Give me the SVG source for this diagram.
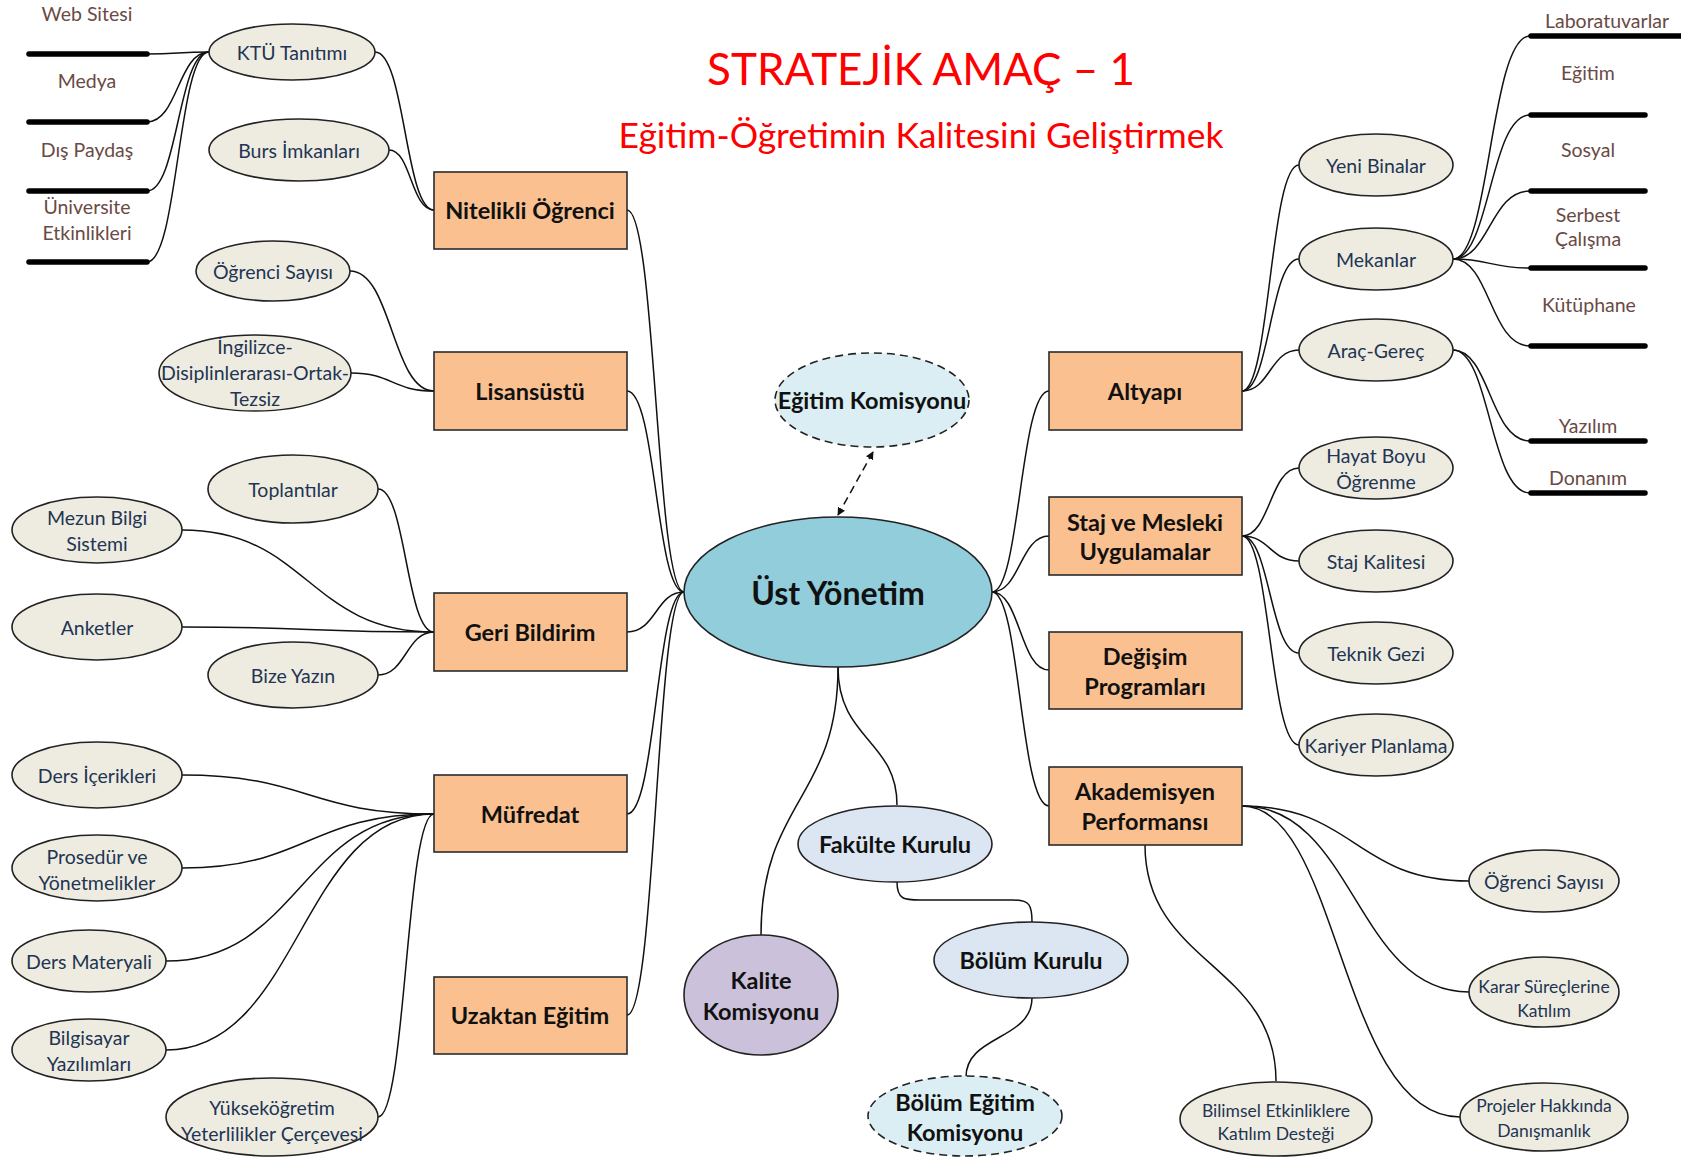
<svg xmlns="http://www.w3.org/2000/svg" width="1681" height="1157" viewBox="0 0 1681 1157">
<style>
text{font-family:Lato,"Liberation Sans",sans-serif;text-anchor:middle;dominant-baseline:central}
.box{fill:#FAC090;stroke:#2b2b2b;stroke-width:1.6}
.bt{font-size:23.5px;font-weight:bold;fill:#111}
.sub{fill:#EEECE1;stroke:#222;stroke-width:1.6}
.st{font-size:19.5px;fill:#1F3553}
.sts{font-size:17.5px;fill:#1F3553}
.bar{stroke:#000;stroke-width:5.5;stroke-linecap:round}
.bl{font-size:19.5px;fill:#6A4A45}
.cm{font-size:23.5px;font-weight:bold;fill:#111}
.dash{stroke-dasharray:8,5}
#connectors path{fill:none;stroke:#111;stroke-width:1.5}
</style>
<defs>
<marker id="ah" viewBox="0 0 10 10" refX="9" refY="5" markerWidth="8" markerHeight="8" orient="auto-start-reverse" markerUnits="userSpaceOnUse"><path d="M0,0 L10,5 L0,10 z" fill="#111"/></marker>
</defs>
<rect width="1681" height="1157" fill="#fff"/>

<g id="title">
<text x="921" y="68" style="font-size:44px;fill:#FF0000">STRATEJİK AMAÇ – 1</text>
<text x="921" y="134" style="font-size:35.5px;fill:#FF0000">Eğitim-Öğretimin Kalitesini Geliştirmek</text>
</g>

<g id="connectors">
<path d="M627,210 C656,210 656,592 684,592"/>
<path d="M627,391 C656,391 656,592 684,592"/>
<path d="M627,632 C656,632 656,592 684,592"/>
<path d="M627,814 C656,814 656,592 684,592"/>
<path d="M627,1015 C656,1015 656,592 684,592"/>
<path d="M992,592 C1020,592 1020,391 1049,391"/>
<path d="M992,592 C1020,592 1020,536 1049,536"/>
<path d="M992,592 C1020,592 1020,670 1049,670"/>
<path d="M992,592 C1020,592 1020,806 1049,806"/>
<path d="M375,52 C405,52 405,210 434,210"/>
<path d="M389,150 C411,150 411,210 434,210"/>
<path d="M209,52 C178,52 178,54 147,54"/>
<path d="M209,52 C178,52 178,122 147,122"/>
<path d="M209,52 C178,52 178,191 147,191"/>
<path d="M209,52 C178,52 178,262 147,262"/>
<path d="M350,271 C392,271 392,391 434,391"/>
<path d="M351,373 C392,373 392,391 434,391"/>
<path d="M378,489 C406,489 406,632 434,632"/>
<path d="M182,530 C308,530 308,632 434,632"/>
<path d="M182,627 C308,627 308,632 434,632"/>
<path d="M378,675 C406,675 406,632 434,632"/>
<path d="M182,775 C308,775 308,814 434,814"/>
<path d="M182,868 C308,868 308,814 434,814"/>
<path d="M166,961 C300,961 300,814 434,814"/>
<path d="M166,1050 C300,1050 300,814 434,814"/>
<path d="M378,1117 C406,1117 406,814 434,814"/>
<path d="M1242,391 C1270,391 1270,165 1299,165"/>
<path d="M1242,391 C1270,391 1270,259 1299,259"/>
<path d="M1242,391 C1270,391 1270,350 1299,350"/>
<path d="M1453,259 C1490,259 1490,36 1530,36"/>
<path d="M1453,259 C1490,259 1490,115 1530,115"/>
<path d="M1453,259 C1490,259 1490,191 1530,191"/>
<path d="M1453,259 C1490,259 1490,268 1530,268"/>
<path d="M1453,259 C1490,259 1490,346 1530,346"/>
<path d="M1453,350 C1490,350 1490,441 1530,441"/>
<path d="M1453,350 C1490,350 1490,493 1530,493"/>
<path d="M1242,536 C1270,536 1270,468 1299,468"/>
<path d="M1242,536 C1270,536 1270,561 1299,561"/>
<path d="M1242,536 C1270,536 1270,653 1299,653"/>
<path d="M1242,536 C1270,536 1270,745 1299,745"/>
<path d="M1242,806 C1355,806 1355,881 1469,881"/>
<path d="M1242,806 C1355,806 1355,992 1469,992"/>
<path d="M1242,806 C1340,806 1340,1117 1460,1117"/>
<path d="M1145,845 C1145,964 1276,964 1276,1081"/>
<path d="M838,667 C838,800 761,800 761,935"/>
<path d="M838,667 C838,740 897,740 897,805"/>
<path d="M897,882 C897,900 905,900 920,900 L1012,900 C1030,900 1032,905 1032,922"/>
<path d="M1032,998 C1032,1040 966,1035 966,1077"/>
<path d="M873,452 L838,515" class="dash" marker-start="url(#ah)" marker-end="url(#ah)"/>
</g>

<g id="bars">
<line class="bar" x1="29" y1="54" x2="147" y2="54"/>
<line class="bar" x1="29" y1="122" x2="147" y2="122"/>
<line class="bar" x1="29" y1="191" x2="147" y2="191"/>
<line class="bar" x1="29" y1="262" x2="147" y2="262"/>
<text class="bl" x="87" y="13">Web Sitesi</text>
<text class="bl" x="87" y="80">Medya</text>
<text class="bl" x="87" y="149">Dış Paydaş</text>
<text class="bl" x="87" y="206">Üniversite</text>
<text class="bl" x="87" y="232">Etkinlikleri</text>
<line class="bar" x1="1531" y1="36" x2="1684" y2="36"/>
<line class="bar" x1="1531" y1="115" x2="1645" y2="115"/>
<line class="bar" x1="1531" y1="191" x2="1645" y2="191"/>
<line class="bar" x1="1531" y1="268" x2="1645" y2="268"/>
<line class="bar" x1="1531" y1="346" x2="1645" y2="346"/>
<line class="bar" x1="1531" y1="441" x2="1645" y2="441"/>
<line class="bar" x1="1531" y1="493" x2="1645" y2="493"/>
<text class="bl" x="1607" y="20">Laboratuvarlar</text>
<text class="bl" x="1588" y="72">Eğitim</text>
<text class="bl" x="1588" y="149">Sosyal</text>
<text class="bl" x="1588" y="214">Serbest</text>
<text class="bl" x="1588" y="238">Çalışma</text>
<text class="bl" x="1589" y="304">Kütüphane</text>
<text class="bl" x="1588" y="425">Yazılım</text>
<text class="bl" x="1588" y="477">Donanım</text>
</g>

<g id="ust-yonetim"><ellipse cx="838" cy="592" rx="154" ry="75" fill="#92CDDC" stroke="#222" stroke-width="1.6"/><text x="838" y="592" style="font-size:32px;font-weight:bold;fill:#111">Üst Yönetim</text></g>
<g id="egitim-komisyonu"><ellipse class="dash" cx="872" cy="400" rx="97" ry="47" fill="#DAEEF3" stroke="#222" stroke-width="1.6"/><text class="cm" x="872" y="400">Eğitim Komisyonu</text></g>
<g id="fakulte-kurulu"><ellipse cx="895" cy="844" rx="97" ry="38" fill="#DCE6F2" stroke="#222" stroke-width="1.6"/><text class="cm" x="895" y="844">Fakülte Kurulu</text></g>
<g id="bolum-kurulu"><ellipse cx="1031" cy="960" rx="97" ry="38" fill="#DCE6F2" stroke="#222" stroke-width="1.6"/><text class="cm" x="1031" y="960">Bölüm Kurulu</text></g>
<g id="bolum-egitim-komisyonu"><ellipse class="dash" cx="965" cy="1116" rx="97" ry="40" fill="#DAEEF3" stroke="#222" stroke-width="1.6"/><text class="cm" x="965" y="1102">Bölüm Eğitim</text><text class="cm" x="965" y="1132">Komisyonu</text></g>
<g id="kalite-komisyonu"><ellipse cx="761" cy="995" rx="77" ry="60" fill="#CCC1DA" stroke="#222" stroke-width="1.6"/><text class="cm" x="761" y="980">Kalite</text><text class="cm" x="761" y="1011">Komisyonu</text></g>

<g id="nitelikli-ogrenci"><rect class="box" x="434" y="172" width="193" height="77"/><text class="bt" x="530" y="210">Nitelikli Öğrenci</text></g>
<g id="lisansustu"><rect class="box" x="434" y="352" width="193" height="78"/><text class="bt" x="530" y="391">Lisansüstü</text></g>
<g id="geri-bildirim"><rect class="box" x="434" y="593" width="193" height="78"/><text class="bt" x="530" y="632">Geri Bildirim</text></g>
<g id="mufredat"><rect class="box" x="434" y="775" width="193" height="77"/><text class="bt" x="530" y="814">Müfredat</text></g>
<g id="uzaktan-egitim"><rect class="box" x="434" y="977" width="193" height="77"/><text class="bt" x="530" y="1015">Uzaktan Eğitim</text></g>
<g id="altyapi"><rect class="box" x="1049" y="352" width="193" height="78"/><text class="bt" x="1145" y="391">Altyapı</text></g>
<g id="staj"><rect class="box" x="1049" y="497" width="193" height="78"/><text class="bt" x="1145" y="522">Staj ve Mesleki</text><text class="bt" x="1145" y="551">Uygulamalar</text></g>
<g id="degisim"><rect class="box" x="1049" y="632" width="193" height="77"/><text class="bt" x="1145" y="656">Değişim</text><text class="bt" x="1145" y="686">Programları</text></g>
<g id="akademisyen"><rect class="box" x="1049" y="767" width="193" height="78"/><text class="bt" x="1145" y="791">Akademisyen</text><text class="bt" x="1145" y="821">Performansı</text></g>

<g id="ktu-tanitimi"><ellipse class="sub" cx="292" cy="52" rx="83" ry="28"/><text class="st" x="292" y="52">KTÜ Tanıtımı</text></g>
<g id="burs"><ellipse class="sub" cx="299" cy="150" rx="90" ry="31"/><text class="st" x="299" y="150">Burs İmkanları</text></g>
<g id="ogrenci-sayisi-1"><ellipse class="sub" cx="273" cy="271" rx="77" ry="30"/><text class="st" x="273" y="271">Öğrenci Sayısı</text></g>
<g id="ingilizce"><ellipse class="sub" cx="255" cy="373" rx="96" ry="38"/><text class="st" x="255" y="346">İngilizce-</text><text class="st" x="255" y="372">Disiplinlerarası-Ortak-</text><text class="st" x="255" y="398">Tezsiz</text></g>
<g id="toplantilar"><ellipse class="sub" cx="293" cy="489" rx="85" ry="34"/><text class="st" x="293" y="489">Toplantılar</text></g>
<g id="mezun"><ellipse class="sub" cx="97" cy="530" rx="85" ry="33"/><text class="st" x="97" y="517">Mezun Bilgi</text><text class="st" x="97" y="543">Sistemi</text></g>
<g id="anketler"><ellipse class="sub" cx="97" cy="627" rx="85" ry="33"/><text class="st" x="97" y="627">Anketler</text></g>
<g id="bize-yazin"><ellipse class="sub" cx="293" cy="675" rx="85" ry="33"/><text class="st" x="293" y="675">Bize Yazın</text></g>
<g id="ders-icerikleri"><ellipse class="sub" cx="97" cy="775" rx="85" ry="33"/><text class="st" x="97" y="775">Ders İçerikleri</text></g>
<g id="prosedur"><ellipse class="sub" cx="97" cy="868" rx="85" ry="33"/><text class="st" x="97" y="856">Prosedür ve</text><text class="st" x="97" y="882">Yönetmelikler</text></g>
<g id="ders-materyali"><ellipse class="sub" cx="89" cy="961" rx="77" ry="31"/><text class="st" x="89" y="961">Ders Materyali</text></g>
<g id="bilgisayar"><ellipse class="sub" cx="89" cy="1050" rx="77" ry="31"/><text class="st" x="89" y="1037">Bilgisayar</text><text class="st" x="89" y="1063">Yazılımları</text></g>
<g id="yuksekogretim"><ellipse class="sub" cx="272" cy="1117" rx="106" ry="39"/><text class="st" x="272" y="1107">Yükseköğretim</text><text class="st" x="272" y="1133">Yeterlilikler Çerçevesi</text></g>

<g id="yeni-binalar"><ellipse class="sub" cx="1376" cy="165" rx="77" ry="31"/><text class="st" x="1376" y="165">Yeni Binalar</text></g>
<g id="mekanlar"><ellipse class="sub" cx="1376" cy="259" rx="77" ry="31"/><text class="st" x="1376" y="259">Mekanlar</text></g>
<g id="arac-gerec"><ellipse class="sub" cx="1376" cy="350" rx="77" ry="31"/><text class="st" x="1376" y="350">Araç-Gereç</text></g>
<g id="hayat-boyu"><ellipse class="sub" cx="1376" cy="468" rx="77" ry="31"/><text class="st" x="1376" y="455">Hayat Boyu</text><text class="st" x="1376" y="481">Öğrenme</text></g>
<g id="staj-kalitesi"><ellipse class="sub" cx="1376" cy="561" rx="77" ry="31"/><text class="st" x="1376" y="561">Staj Kalitesi</text></g>
<g id="teknik-gezi"><ellipse class="sub" cx="1376" cy="653" rx="77" ry="31"/><text class="st" x="1376" y="653">Teknik Gezi</text></g>
<g id="kariyer"><ellipse class="sub" cx="1376" cy="745" rx="77" ry="31"/><text class="st" x="1376" y="745">Kariyer Planlama</text></g>

<g id="ogrenci-sayisi-2"><ellipse class="sub" cx="1544" cy="881" rx="75" ry="31"/><text class="st" x="1544" y="881">Öğrenci Sayısı</text></g>
<g id="karar"><ellipse class="sub" cx="1544" cy="992" rx="75" ry="35"/><text class="sts" x="1544" y="986">Karar Süreçlerine</text><text class="sts" x="1544" y="1010">Katılım</text></g>
<g id="projeler"><ellipse class="sub" cx="1544" cy="1117" rx="84" ry="34"/><text class="sts" x="1544" y="1105">Projeler Hakkında</text><text class="sts" x="1544" y="1130">Danışmanlık</text></g>
<g id="bilimsel"><ellipse class="sub" cx="1276" cy="1119" rx="96" ry="37"/><text class="sts" x="1276" y="1110">Bilimsel Etkinliklere</text><text class="sts" x="1276" y="1133">Katılım Desteği</text></g>
</svg>
